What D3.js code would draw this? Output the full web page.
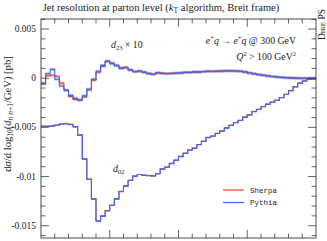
<!DOCTYPE html>
<html>
<head>
<meta charset="utf-8">
<script src="https://cdn.jsdelivr.net/npm/d3@7"></script>
<style>
  body { margin: 0; background: #fff; }
  svg text { font-family: "Liberation Serif", serif; fill: #222; }
</style>
</head>
<body>
<div id="chart_div"></div>
<script>
// x: log10(d_{n n+1}/GeV), 60 equal bins over [0, 4]
let xRange = [0, 4];
// d23 in units of 1e-4 pb (drawn x10), d02 in units of 1e-3 pb
let sherpa_d23 = [-0.6, 0.25, 0.3, 0.2, -0.5, -1.25, -1.85, -2.15, -2.2, -1.9, -1.2, -0.2, 0.6, 1.2, 1.7, 1.55, 1.3, 1.05, 1.1, 0.82,
    0.68, 0.7, 0.62, 0.5, 0.42, 0.52, 0.5, 0.45, 0.5, 0.52, 0.52, 0.6, 0.58, 0.62, 0.6, 0.66, 0.7, 0.68, 0.72, 0.72,
    0.75, 0.73, 0.74, 0.7, 0.64, 0.54, 0.45, 0.37, 0.3, 0.24, 0.17, 0.12, 0.09, 0.05, 0.03, 0.01, 0.0, 0.0, 0.0, 0.0];
let pythia_d23 = [-0.5, 0.45, 0.9, -0.1, -0.8, -1.2, -1.75, -2.05, -2.24, -1.8, -1.1, -0.1, 0.7, 1.3, 1.75, 1.47, 1.27, 1.0, 1.07, 0.86,
    0.66, 0.73, 0.6, 0.46, 0.4, 0.56, 0.5, 0.48, 0.48, 0.5, 0.55, 0.58, 0.6, 0.64, 0.66, 0.68, 0.71, 0.71, 0.71, 0.73,
    0.74, 0.74, 0.73, 0.71, 0.63, 0.53, 0.46, 0.36, 0.3, 0.23, 0.17, 0.12, 0.08, 0.05, 0.03, 0.01, 0.0, 0.0, 0.0, 0.0];
let sherpa_d02 = [-4.9, -4.88, -4.85, -4.78, -4.66, -4.6, -4.72, -4.95, -5.75, -8.2, -10.3, -12.25, -14.5, -14.05, -13.45, -12.95, -12.25, -11.55, -10.95, -10.4,
    -9.95, -9.8, -9.88, -9.9, -9.95, -9.72, -9.22, -9.06, -8.66, -8.36, -7.95, -7.65, -7.3, -7.14, -6.74, -6.43, -6.02, -5.9, -5.6, -5.38,
    -5.05, -4.8, -4.5, -4.3, -3.94, -3.73, -3.38, -3.18, -2.88, -2.66, -2.42, -2.26, -1.96, -1.65, -1.26, -0.88, -0.5, -0.29, -0.13, -0.07];
let pythia_d02 = [-4.88, -4.88, -4.86, -4.76, -4.65, -4.62, -4.70, -4.93, -5.79, -8.23, -10.26, -12.3, -14.53, -14.0, -13.5, -12.9, -12.3, -11.5, -10.98, -10.37,
    -9.96, -9.79, -9.86, -9.91, -9.93, -9.7, -9.25, -9.04, -8.69, -8.33, -7.98, -7.62, -7.32, -7.11, -6.76, -6.40, -6.05, -5.87, -5.62, -5.35,
    -5.08, -4.78, -4.52, -4.27, -3.96, -3.71, -3.40, -3.15, -2.90, -2.64, -2.44, -2.24, -1.98, -1.63, -1.27, -0.86, -0.51, -0.28, -0.13, -0.07];
let d23_scale = 10;
let d23_err = 0.15;   // 1e-4 pb
let d02_err = 0.05;   // 1e-3 pb
let yTicks = [0.005, 0, -0.005, -0.01, -0.015];
let yTickLabels = ["0.005", "0", "-0.005", "-0.01", "-0.015"];
let series = ["Sherpa", "Pythia"];
let colors = {"Sherpa": "#e8432d", "Pythia": "#3d66ee"};

let margin = {top: 19, right: 11, bottom: 3, left: 41};
let width = 327 - margin.left - margin.right;
let height = 241 - margin.top - margin.bottom;

let svg = d3.select("#chart_div")
    .append("svg")
    .attr("width", 327)
    .attr("height", 241);

let g = svg.append("g")
    .attr("transform", "translate(" + margin.left + "," + margin.top + ")");

let x = d3.scaleLinear().domain(xRange).range([0, width]);
let y = d3.scaleLinear().domain([-0.01625, 0.00602]).range([height, 0]);

function toBins(values, factor) {
    let n = values.length;
    let w = (xRange[1] - xRange[0]) / n;
    return values.map((v, i) => ({x0: xRange[0] + i * w, x1: xRange[0] + (i + 1) * w, v: v * factor}));
}

let line = d3.line()
    .x(d => x(d[0]))
    .y(d => y(d[1]))
    .curve(d3.curveStepAfter);

function drawHist(values, factor, err, name) {
    let bins = toBins(values, factor);
    g.append("g")
        .selectAll("rect")
        .data(bins)
        .join("rect")
        .attr("x", d => x(d.x0))
        .attr("width", d => x(d.x1) - x(d.x0))
        .attr("y", d => y(d.v + err * factor))
        .attr("height", d => y(d.v - err * factor) - y(d.v + err * factor))
        .attr("fill", colors[name])
        .attr("opacity", 0.35);
    let pts = bins.map(d => [d.x0, d.v]);
    pts.push([bins[bins.length - 1].x1, bins[bins.length - 1].v]);
    g.append("path")
        .attr("d", line(pts))
        .attr("fill", "none")
        .attr("stroke", colors[name])
        .attr("stroke-width", 1.1);
}

drawHist(sherpa_d02, 1e-3, d02_err, "Sherpa");
drawHist(pythia_d02, 1e-3, d02_err, "Pythia");
drawHist(sherpa_d23, 1e-4 * d23_scale, d23_err, "Sherpa");
drawHist(pythia_d23, 1e-4 * d23_scale, d23_err, "Pythia");

// frame and ticks
g.append("rect")
    .attr("width", width)
    .attr("height", height)
    .attr("fill", "none")
    .attr("stroke", "#222")
    .attr("stroke-width", 0.8);

let xMinor = d3.range(0, 20).map(i => i * 0.2).filter(v => v > 0);
let yMinor = d3.range(-16, 7).map(i => i * 0.001);

function tickLines(data, isX, len) {
    let grp = g.append("g").attr("stroke", "#222").attr("stroke-width", 0.7);
    data.forEach(function (v) {
        if (isX) {
            grp.append("line").attr("x1", x(v)).attr("x2", x(v)).attr("y1", 0).attr("y2", len);
            grp.append("line").attr("x1", x(v)).attr("x2", x(v)).attr("y1", height).attr("y2", height - len);
        } else {
            grp.append("line").attr("y1", y(v)).attr("y2", y(v)).attr("x1", 0).attr("x2", len);
            grp.append("line").attr("y1", y(v)).attr("y2", y(v)).attr("x1", width).attr("x2", width - len);
        }
    });
}
tickLines(xMinor.filter(v => Math.abs(v - Math.round(v)) > 1e-6), true, 4.5);
tickLines([1, 2, 3], true, 8);
tickLines(yMinor.filter(v => yTicks.every(t => Math.abs(t - v) > 1e-7)), false, 4.5);
tickLines(yTicks, false, 8);

g.append("g")
    .selectAll("text")
    .data(yTicks)
    .join("text")
    .attr("x", -5)
    .attr("y", d => y(d) + 3)
    .attr("text-anchor", "end")
    .style("font-size", "9.5px")
    .text((d, i) => yTickLabels[i]);

// title
svg.append("text")
    .attr("x", 161)
    .attr("y", 11)
    .attr("text-anchor", "middle")
    .style("font-size", "10.6px")
    .html('Jet resolution at parton level (<tspan font-style="italic">k</tspan><tspan font-size="7.5px" dy="2">T</tspan><tspan dy="-2"> algorithm, Breit frame)</tspan>');

// y axis label
svg.append("text")
    .attr("transform", "translate(11,114) rotate(-90)")
    .attr("text-anchor", "middle")
    .style("font-size", "10.6px")
    .html('d<tspan font-style="italic">σ</tspan>/d log<tspan font-size="7.5px" dy="2">10</tspan><tspan dy="-2">(</tspan><tspan font-style="italic">d</tspan><tspan font-size="7.5px" font-style="italic" dy="2">n n</tspan><tspan font-size="7.5px" dy="0">+1</tspan><tspan dy="-2">/GeV) [pb]</tspan>');

// side label
svg.append("text")
    .attr("transform", "translate(325,9) rotate(-90)")
    .attr("text-anchor", "end")
    .style("font-size", "9.5px")
    .style("font-variant", "small-caps")
    .text("Dire PS");

// annotations
svg.append("text")
    .attr("x", 296).attr("y", 44)
    .attr("text-anchor", "end")
    .style("font-size", "9.8px")
    .html('<tspan font-style="italic">e</tspan><tspan font-size="6.5px" dy="-4">+</tspan><tspan font-style="italic" dy="4">q</tspan> → <tspan font-style="italic">e</tspan><tspan font-size="6.5px" dy="-4">+</tspan><tspan font-style="italic" dy="4">q</tspan> @ 300 GeV');
svg.append("text")
    .attr("x", 296).attr("y", 60)
    .attr("text-anchor", "end")
    .style("font-size", "9.8px")
    .html('<tspan font-style="italic">Q</tspan><tspan font-size="6.5px" dy="-4">2</tspan><tspan dy="4"> &gt; 100 GeV</tspan><tspan font-size="6.5px" dy="-4">2</tspan>');
svg.append("text")
    .attr("x", 111).attr("y", 48)
    .style("font-size", "9.8px")
    .html('<tspan font-style="italic">d</tspan><tspan font-size="6.5px" dy="2">23</tspan><tspan dy="-2"> × 10</tspan>');
svg.append("text")
    .attr("x", 113).attr("y", 172)
    .style("font-size", "9.8px")
    .html('<tspan font-style="italic">d</tspan><tspan font-size="6.5px" dy="2">02</tspan>');

// legend
let legend = svg.append("g").attr("transform", "translate(223,190)");
series.forEach(function (s, i) {
    legend.append("line")
        .attr("x1", 0).attr("x2", 21)
        .attr("y1", i * 12.5).attr("y2", i * 12.5)
        .attr("stroke", colors[s])
        .attr("stroke-width", 1.2);
    legend.append("text")
        .attr("x", 27).attr("y", i * 12.5 + 2.5)
        .style("font-family", "'Liberation Mono', monospace")
        .style("font-size", "7.5px")
        .text(s);
});
</script>
</body>
</html>
